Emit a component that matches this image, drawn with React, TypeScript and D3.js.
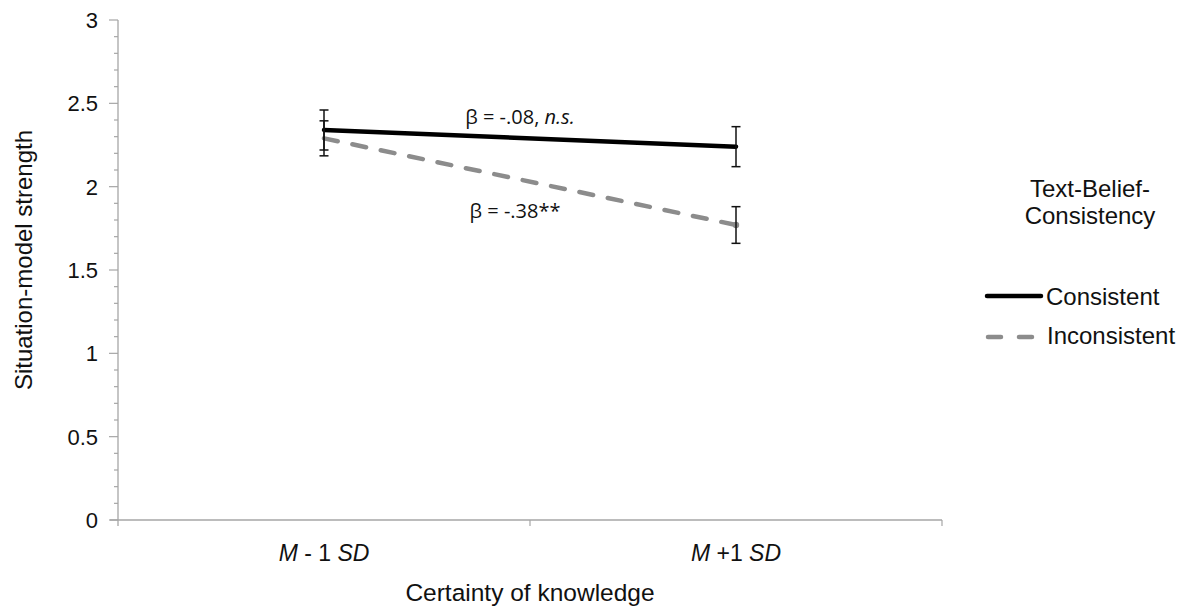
import { useRef, useEffect } from 'react';
import * as d3 from 'd3';

const categories = ['M - 1 SD', 'M +1 SD'];
const consistent = [2.34, 2.24];
const consistentErr = [0.12, 0.12];
const inconsistent = [2.29, 1.77];
const inconsistentErr = [0.105, 0.11];
const yTicks = [0, 0.5, 1, 1.5, 2, 2.5, 3];

const ARIAL = '"Liberation Sans", Arial, sans-serif';

export default function App() {
  const svgRef = useRef<SVGSVGElement>(null);

  useEffect(() => {
    const svg = d3.select(svgRef.current);
    svg.selectAll('*').remove();

    const x = d3.scaleBand().domain(categories).range([118, 942]).padding(0);
    const y = d3.scaleLinear().domain([0, 3]).range([520, 20]);
    const cx = (c: string) => (x(c) ?? 0) + x.bandwidth() / 2;
    const axisColor = '#a6a6a6';

    // y axis: minor ticks every 0.1, labels every 0.5
    const minor = d3.range(0, 31).map(i => i / 10);
    const ya = svg.append('g');
    ya.append('line').attr('x1', 118).attr('x2', 118).attr('y1', y(3)).attr('y2', y(0) + 6)
      .attr('stroke', axisColor).attr('stroke-width', 1.3);
    ya.selectAll('.minor').data(minor).join('line')
      .attr('x1', d => (yTicks.includes(d) ? 109 : 114)).attr('x2', 118)
      .attr('y1', d => y(d)).attr('y2', d => y(d))
      .attr('stroke', axisColor).attr('stroke-width', 1.2);
    ya.selectAll('text').data(yTicks).join('text')
      .attr('x', 98).attr('y', d => y(d)).attr('dy', '0.36em')
      .attr('text-anchor', 'end').attr('font-family', ARIAL).attr('font-size', 22).attr('fill', '#111')
      .text(d => String(d));

    // x axis
    const xa = svg.append('g');
    xa.append('line').attr('x1', 110).attr('x2', 942).attr('y1', y(0)).attr('y2', y(0))
      .attr('stroke', axisColor).attr('stroke-width', 1.3);
    [...categories.map(c => x(c) ?? 0), 942].slice(1).forEach(px => {
      xa.append('line').attr('x1', px).attr('x2', px).attr('y1', y(0)).attr('y2', y(0) + 6)
        .attr('stroke', axisColor).attr('stroke-width', 1.2);
    });
    categories.forEach(c => {
      const [m, rest] = c.split(/ (.*)/s);
      const sd = rest.replace('SD', '');
      const t = xa.append('text').attr('x', cx(c)).attr('y', 561).attr('text-anchor', 'middle')
        .attr('font-family', ARIAL).attr('font-size', 23).attr('fill', '#111');
      t.append('tspan').attr('font-style', 'italic').text(m);
      t.append('tspan').text(' ' + sd);
      t.append('tspan').attr('font-style', 'italic').text('SD');
    });

    // axis titles
    svg.append('text').attr('x', 530).attr('y', 601).attr('text-anchor', 'middle')
      .attr('font-family', ARIAL).attr('font-size', 24.5).attr('fill', '#111').text('Certainty of knowledge');
    svg.append('text').attr('transform', `translate(32,${260}) rotate(-90)`).attr('text-anchor', 'middle')
      .attr('font-family', ARIAL).attr('font-size', 24).attr('fill', '#111').text('Situation-model strength');

    // lines
    const line = d3.line<number>().x((_, i) => cx(categories[i])).y(d => y(d));
    svg.append('path').attr('d', line(inconsistent)).attr('fill', 'none')
      .attr('stroke', '#8c8c8c').attr('stroke-width', 4.5).attr('stroke-linecap', 'round')
      .attr('stroke-dasharray', '14,15');
    svg.append('circle').attr('cx', cx(categories[1])).attr('cy', y(inconsistent[1])).attr('r', 3.2)
      .attr('fill', '#8c8c8c');
    svg.append('path').attr('d', line(consistent)).attr('fill', 'none')
      .attr('stroke', '#000').attr('stroke-width', 4.5).attr('stroke-linecap', 'round');

    // error bars
    const errBars = (vals: number[], errs: number[]) => {
      vals.forEach((v, i) => {
        const px = cx(categories[i]);
        const g = svg.append('g').attr('stroke', '#111').attr('stroke-width', 1.5);
        g.append('line').attr('x1', px).attr('x2', px).attr('y1', y(v + errs[i])).attr('y2', y(v - errs[i]));
        [v + errs[i], v - errs[i]].forEach(e => {
          g.append('line').attr('x1', px - 4.5).attr('x2', px + 4.5).attr('y1', y(e)).attr('y2', y(e));
        });
      });
    };
    errBars(consistent, consistentErr);
    errBars(inconsistent, inconsistentErr);

    // annotations
    const ann1 = svg.append('text').attr('x', 520).attr('y', 124).attr('text-anchor', 'middle')
      .attr('font-family', '"Open Sans", "Noto Sans", sans-serif').attr('font-size', 20).attr('fill', '#111');
    ann1.append('tspan').text('β = -.08, ');
    ann1.append('tspan').attr('font-style', 'italic').text('n.s.');
    svg.append('text').attr('x', 515).attr('y', 218).attr('text-anchor', 'middle')
      .attr('font-family', '"Open Sans", "Noto Sans", sans-serif').attr('font-size', 20).attr('fill', '#111')
      .text('β = -.38**');

    // legend
    const leg = svg.append('g').attr('font-family', ARIAL).attr('font-size', 24).attr('fill', '#111');
    leg.append('text').attr('x', 1090).attr('y', 197).attr('text-anchor', 'middle').text('Text-Belief-');
    leg.append('text').attr('x', 1090).attr('y', 224).attr('text-anchor', 'middle').text('Consistency');
    leg.append('line').attr('x1', 987).attr('x2', 1041).attr('y1', 296).attr('y2', 296)
      .attr('stroke', '#000').attr('stroke-width', 4.5).attr('stroke-linecap', 'round');
    leg.append('text').attr('x', 1046).attr('y', 305).text('Consistent');
    leg.append('line').attr('x1', 988).attr('x2', 1036).attr('y1', 337).attr('y2', 337)
      .attr('stroke', '#8c8c8c').attr('stroke-width', 4.5).attr('stroke-linecap', 'round')
      .attr('stroke-dasharray', '13,18');
    leg.append('text').attr('x', 1047).attr('y', 344).text('Inconsistent');
  }, []);

  return (
    <svg ref={svgRef} width={1195} height={612}
      style={{ position: 'absolute', left: 0, top: 0, background: '#fff' }} />
  );
}
